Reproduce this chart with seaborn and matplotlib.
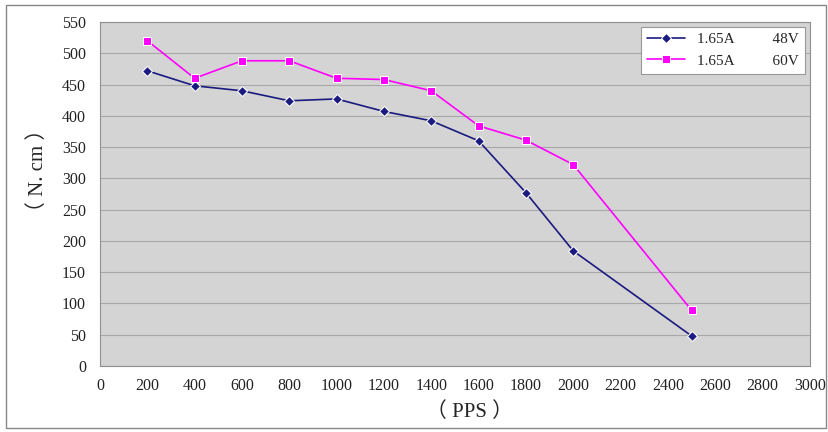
import pandas as pd
import matplotlib.pyplot as plt
import seaborn as sns
from matplotlib.patches import Rectangle

# data
pps = [200, 400, 600, 800, 1000, 1200, 1400, 1600, 1800, 2000, 2500]
torque_48v = [472, 448, 440, 424, 427, 407, 392, 360, 277, 184, 48]
torque_60v = [520, 460, 488, 488, 460, 458, 440, 384, 361, 322, 89]
labels = ['1.65A          48V', '1.65A          60V']

df = pd.DataFrame({'pps': pps + pps,
                   'torque': torque_48v + torque_60v,
                   'serie': [labels[0]] * len(pps) + [labels[1]] * len(pps)})

sns.set_style('white')
fonts = ['Liberation Serif', 'Noto Sans CJK SC', 'DejaVu Sans']
plt.rcParams['font.family'] = fonts

fig = plt.figure(figsize=(8.29, 4.32), dpi=100)
ax = fig.add_axes([0.1206, 0.1528, 0.8564, 0.7963])
ax.set_facecolor('#d4d4d4')

sns.lineplot(data=df, x='pps', y='torque', hue='serie', style='serie',
             palette={labels[0]: '#1a1a80', labels[1]: '#ff00ff'},
             markers={labels[0]: 'D', labels[1]: 's'},
             dashes=False, markersize=5.5, linewidth=1.2, ax=ax)

ax.set_xlim(0, 3000)
ax.set_ylim(0, 550)
ax.set_xticks(range(0, 3001, 200))
ax.set_yticks(range(0, 551, 50))
ax.yaxis.grid(True, color='#a8a8a8', linewidth=0.8)
ax.set_axisbelow(True)
ax.tick_params(axis='both', labelsize=11.5, colors='#222222')
ax.tick_params(axis='x', direction='in', length=5, color='#888888', pad=9)
ax.tick_params(axis='y', length=0, pad=10)
for s in ax.spines.values():
    s.set_color('#909090')

ax.set_xlabel('（ PPS ）', fontsize=15)
ax.set_ylabel('（ N. cm ）', fontsize=15)
ax.xaxis.set_label_coords(0.52, -0.105)
ax.yaxis.set_label_coords(-0.073, 0.57)

leg = ax.legend(loc='upper right', fontsize=11, frameon=True, fancybox=False,
                edgecolor='#999999', framealpha=1, borderaxespad=0.3,
                handlelength=2.5)
leg.get_frame().set_linewidth(0.8)

# outer border of the picture
fig.patches.append(Rectangle((0.007, 0.01), 0.989, 0.978, transform=fig.transFigure,
                             fill=False, edgecolor='#888888', linewidth=1))

plt.savefig('out.png', dpi=100)
